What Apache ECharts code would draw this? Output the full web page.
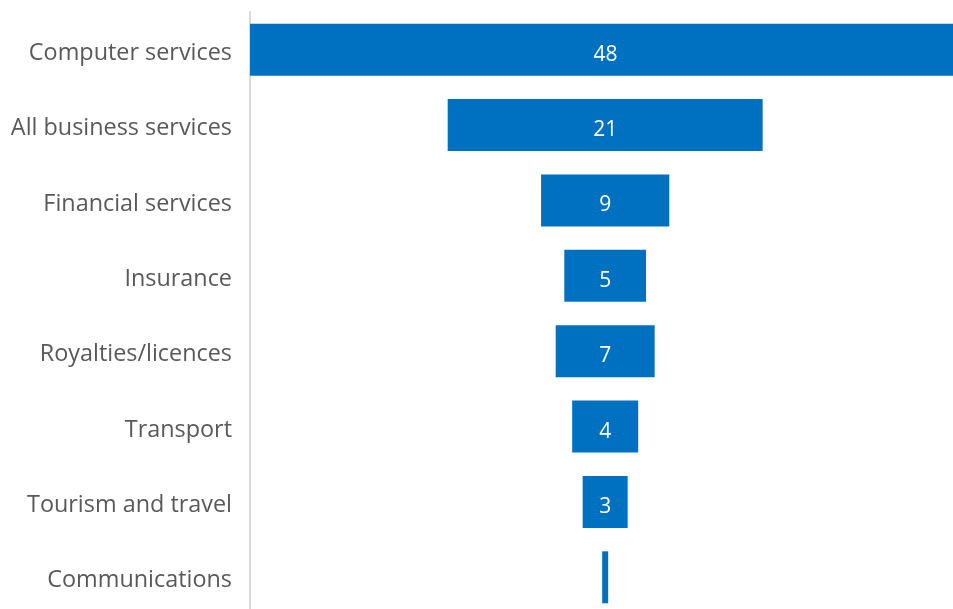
<!DOCTYPE html>
<html>
<head>
<meta charset="utf-8">
<script src="https://cdn.jsdelivr.net/npm/echarts@6/dist/echarts.min.js"></script>
<style>
html,body{margin:0;padding:0;background:#fff;overflow:hidden;width:953px;height:609px;}
#chart{width:953px;height:615px;}
</style>
</head>
<body>
<div id="chart"></div>
<script>
// Categories, top to bottom
const categories = [
  "Computer services",
  "All business services",
  "Financial services",
  "Insurance",
  "Royalties/licences",
  "Transport",
  "Tourism and travel",
  "Communications"
];
// Values (labels are rounded)
const values = [48.0, 21.0, 8.55, 5.45, 6.6, 4.4, 3.0, 0.4];

const offsets = values.map(v => -v / 2);

const chart = echarts.init(document.getElementById('chart'), null, {renderer: 'canvas'});
const font = "'Open Sans', sans-serif";
// the widest bar is clipped by the plot area; keep its label on the bar's true centre
const barData = values.map((v, i) => i === 0 ? {value: v, label: {offset: [4, 5]}} : v);
chart.setOption({
  animation: false,
  grid: {left: 250, right: 0, top: 12, bottom: 0, containLabel: false},
  xAxis: {
    type: 'value',
    min: -23.68,
    max: 23.19,
    show: false
  },
  yAxis: {
    type: 'category',
    data: categories,
    inverse: true,
    axisTick: {show: false},
    axisLine: {show: true, onZero: false, lineStyle: {color: '#d9d9d9', width: 2}},
    axisLabel: {
      margin: 18,
      formatter: v => '{a|' + v + '}',
      rich: {
        a: {
          color: '#595959',
          fontFamily: font,
          fontSize: 23.4,
          padding: [7, 0, 0, 0]
        }
      }
    }
  },
  series: [
    {
      type: 'bar',
      stack: 'f',
      stackStrategy: 'all',
      data: offsets,
      itemStyle: {color: 'transparent'},
      barWidth: 52,
      silent: true
    },
    {
      type: 'bar',
      stack: 'f',
      stackStrategy: 'all',
      data: barData,
      barWidth: 52,
      itemStyle: {color: '#0070C0'},
      label: {
        show: true,
        position: 'inside',
        color: '#ffffff',
        fontFamily: font,
        fontSize: 21,
        offset: [0, 5],
        formatter: p => {
          const r = Math.round(p.value);
          return r === 0 ? '' : String(r);
        }
      }
    }
  ]
});
</script>
</body>
</html>
